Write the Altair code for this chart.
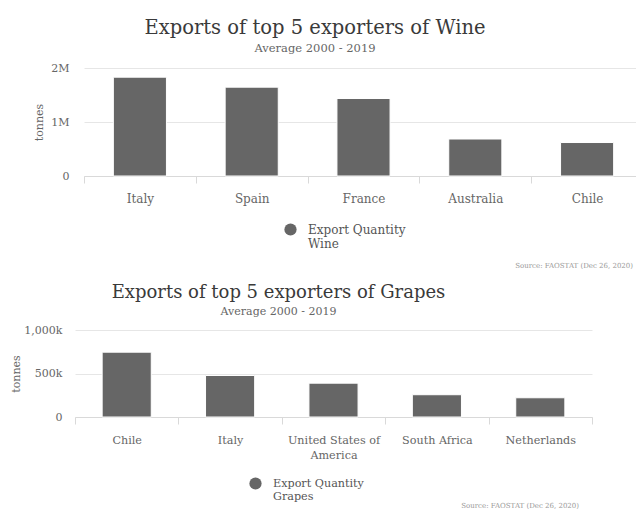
import altair as alt
import pandas as pd

# ---- data ----
wine_countries = ["Italy", "Spain", "France", "Australia", "Chile"]
wine_tonnes = [1830000, 1645000, 1435000, 685000, 620000]

grape_countries = ["Chile", "Italy", "United States of America", "South Africa", "Netherlands"]
grape_tonnes = [745000, 477000, 389000, 256000, 221000]

series_name = "Export Quantity"
subtitle_text = "Average 2000 - 2019"
source_note = "Source: FAOSTAT (Dec 26, 2020)"

FONT = "DejaVu Serif"
BAR = "#666666"


def make_chart(product, countries, values, width, height, ymax, yticks, ylabel_expr,
               xrange, ylab_pad, ytitle_x, title_dx, leg_x, leg_y, src_x, src_y,
               title_size, sub_size, label_size):
    df = pd.DataFrame({"country": countries, "tonnes": values, "series": series_name})
    note = pd.DataFrame({"note": [source_note]})

    xscale = alt.Scale(paddingInner=0, paddingOuter=0)
    if xrange is not None:
        xscale = alt.Scale(paddingInner=0, paddingOuter=0, range=xrange)

    bars = alt.Chart(df).mark_bar(
        width=alt.RelativeBandSize(0.475), stroke="#ffffff", strokeWidth=1
    ).encode(
        x=alt.X("country:N", sort=countries, scale=xscale,
                axis=alt.Axis(title=None, labelAngle=0, tickBand="extent", tickSize=7,
                              tickColor="#d9d9d9", domainColor="#d9d9d9", grid=False,
                              labelFont=FONT, labelFontSize=label_size, labelColor="#666666",
                              labelPadding=10, labelLineHeight=15, labelLimit=200,
                              labelExpr="datum.label == 'United States of America' ? ['United States of', 'America'] : datum.label")),
        y=alt.Y("tonnes:Q", scale=alt.Scale(domain=[0, ymax], nice=False),
                axis=alt.Axis(values=yticks, labelExpr=ylabel_expr, grid=True,
                              gridColor="#e6e6e6", domain=False, ticks=False,
                              labelPadding=ylab_pad, labelFont=FONT, labelFontSize=11,
                              labelColor="#666666", title="tonnes", titleFont=FONT,
                              titleFontSize=11, titleFontWeight="normal",
                              titleColor="#666666", titleX=ytitle_x)),
        color=alt.Color("series:N", scale=alt.Scale(range=[BAR]),
                        legend=alt.Legend(orient="none", legendX=leg_x, legendY=leg_y,
                                          title=None, symbolType="circle", symbolSize=150,
                                          symbolStrokeWidth=0, padding=0,
                                          labelFont=FONT, labelFontSize=label_size,
                                          labelColor="#555555", labelOffset=11,
                                          labelBaseline="middle",
                                          labelLimit=300,
                                          labelExpr="[datum.label, '%s']" % product)),
    )

    src = alt.Chart(note).mark_text(
        align="right", baseline="middle", font=FONT, fontSize=7, color="#999999"
    ).encode(x=alt.value(src_x), y=alt.value(src_y), text="note:N")

    return alt.layer(bars, src).properties(
        width=width, height=height,
        title=alt.TitleParams(
            text="Exports of top 5 exporters of %s" % product,
            subtitle=subtitle_text, anchor="middle", frame="group", dx=title_dx,
            font=FONT, fontSize=title_size, fontWeight="normal", color="#3a3a3a",
            subtitleFont=FONT, subtitleFontSize=sub_size, subtitleColor="#666666",
            offset=7, subtitlePadding=4),
    )


top = make_chart("Wine", wine_countries, wine_tonnes, 568, 108, 2000000,
                 [0, 1000000, 2000000],
                 "datum.value == 0 ? '0' : format(datum.value / 1000000, 'd') + 'M'",
                 [9, 568], 6, -31, -44, 209, 155, 558, 198, 19.5, 11.5, 12)

bottom = make_chart("Grapes", grape_countries, grape_tonnes, 517, 87, 1000000,
                    [0, 500000, 1000000],
                    "datum.value == 0 ? '0' : format(datum.value / 1000, ',') + 'k'",
                    None, 13, -54, -55, 174, 147, 504, 176, 18, 11, 11.2)

chart = alt.vconcat(top, bottom, spacing=154, bounds="flush").resolve_scale(
    color="independent"
).resolve_legend(color="independent").properties(
    padding={"left": 2, "top": 10, "right": -8, "bottom": 0}
).configure_view(stroke=None)

chart.save("out.html", embed_options={"renderer": "svg", "actions": False})
